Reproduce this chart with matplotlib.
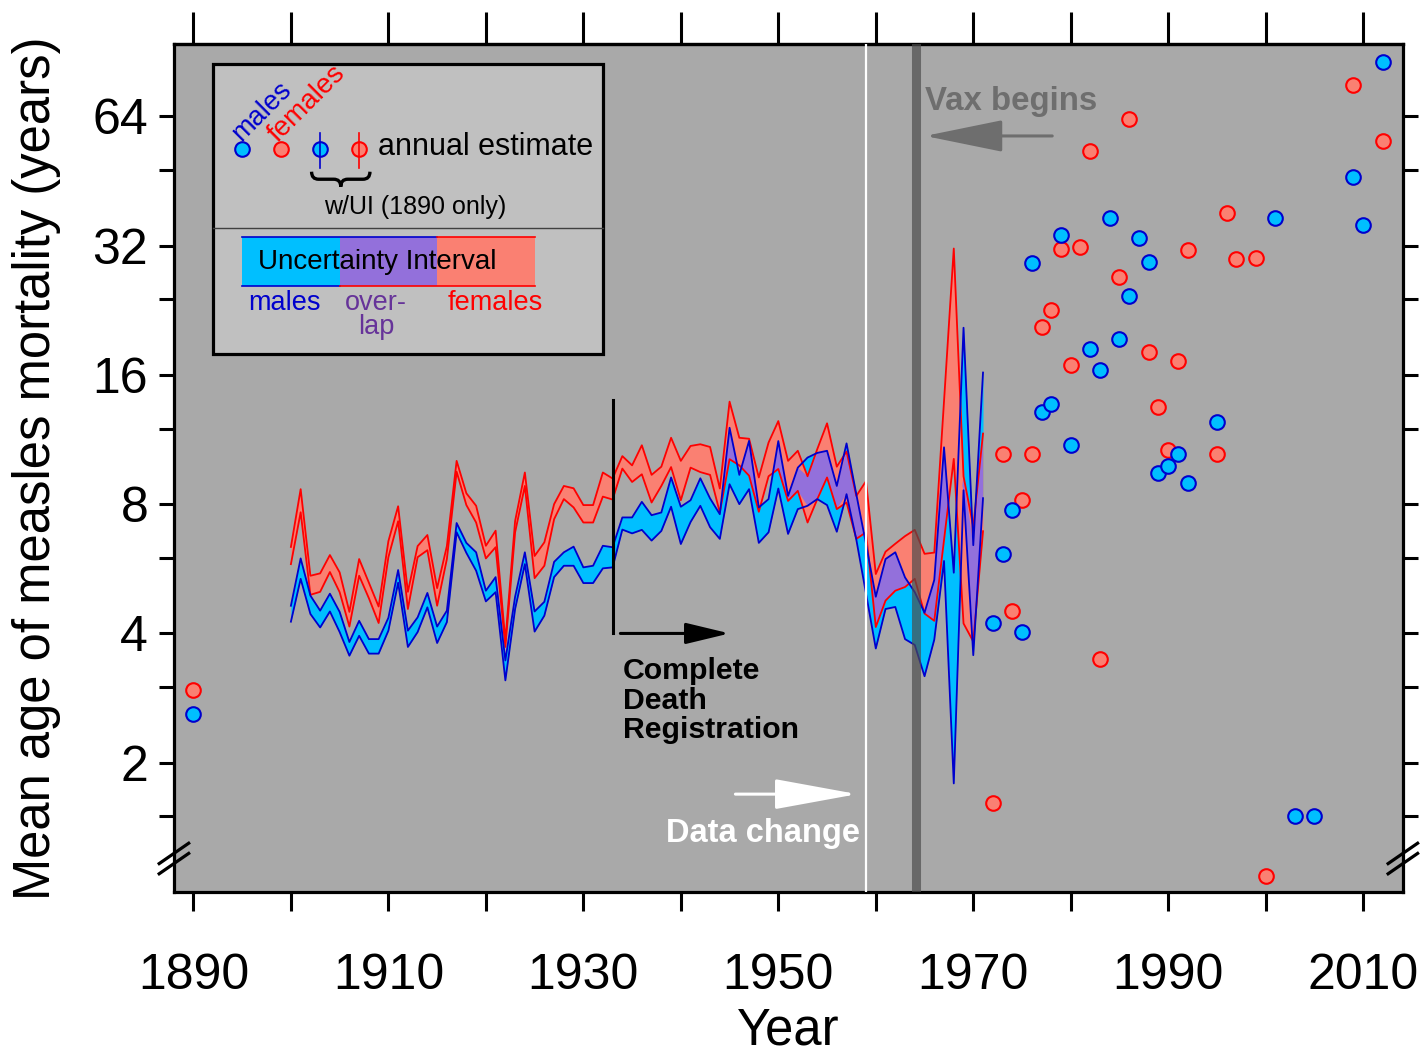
import numpy as np
import matplotlib.pyplot as plt
from matplotlib.patches import Rectangle, PathPatch
from matplotlib.path import Path

plt.rcParams['font.family'] = ['Liberation Sans', 'DejaVu Sans']

# --- DATA ---
band_years = np.arange(1900, 1972)

female_hi = [6.36, 8.67, 5.45, 5.52, 6.09, 5.55, 4.49, 5.96, 5.25, 4.62,
             6.56, 7.91, 5.00, 6.39, 6.78, 5.10, 6.39, 10.09, 8.48, 7.93,
             6.40, 6.94, 3.85, 7.31, 9.48, 6.06, 6.52, 8.00, 8.82, 8.71,
             7.96, 7.96, 9.48, 9.18, 10.35, 9.85, 10.97, 9.36, 9.78, 11.42,
             10.09, 10.93, 11.03, 10.87, 8.70, 13.86, 11.42, 11.36, 9.23, 11.13,
             12.49, 10.09, 10.65, 9.29, 10.75, 12.34, 9.78, 10.61, 8.36, 9.05,
             5.50, 6.20, 6.47, 6.74, 6.97, 6.13, 6.17, 13.9, 31.5, 9.29,
             7.09, 11.68]
female_lo = [5.80, 7.66, 4.92, 5.00, 5.56, 4.99, 4.15, 5.45, 4.83, 4.23,
             6.02, 7.30, 4.56, 6.02, 6.25, 4.64, 5.96, 9.52, 7.96, 7.25,
             5.98, 6.35, 3.72, 6.88, 8.82, 5.38, 5.75, 7.38, 8.22, 7.86,
             7.25, 7.25, 8.33, 8.20, 9.68, 9.01, 9.39, 8.07, 8.82, 9.76,
             8.17, 9.73, 9.50, 9.36, 7.65, 10.18, 9.85, 9.32, 7.68, 9.29,
             9.66, 8.14, 8.59, 7.25, 8.22, 9.23, 7.79, 8.07, 6.64, 6.88,
             4.14, 4.77, 5.03, 5.13, 5.36, 4.45, 4.28, 6.6, 10.2, 4.22,
             3.83, 6.92]
male_hi = [4.64, 5.98, 4.90, 4.52, 4.95, 4.49, 3.82, 4.28, 3.88, 3.88,
           4.35, 5.62, 4.06, 4.36, 4.97, 4.15, 4.52, 7.23, 6.50, 6.18,
           5.03, 5.41, 3.46, 4.87, 6.18, 4.50, 4.74, 5.87, 6.18, 6.37,
           5.70, 5.75, 6.40, 6.35, 7.45, 7.45, 8.10, 7.54, 7.65, 9.23,
           7.89, 8.17, 9.19, 8.25, 7.58, 12.05, 9.36, 11.23, 7.86, 8.22,
           11.22, 8.36, 9.73, 10.27, 10.53, 10.65, 8.82, 11.08, 8.44, 6.46,
           4.87, 5.96, 6.18, 5.40, 4.99, 4.47, 5.33, 10.85, 5.54, 20.6,
           6.42, 16.2]
male_lo = [4.26, 5.36, 4.44, 4.13, 4.50, 4.03, 3.55, 3.95, 3.59, 3.59,
           4.06, 5.25, 3.72, 4.03, 4.60, 3.80, 4.25, 6.88, 6.16, 5.60,
           4.75, 4.99, 3.11, 4.56, 5.80, 4.04, 4.40, 5.41, 5.75, 5.75,
           5.24, 5.24, 5.67, 5.70, 6.98, 6.84, 6.97, 6.58, 6.93, 7.89,
           6.46, 7.27, 7.93, 7.07, 6.64, 8.90, 8.00, 8.67, 6.50, 6.88,
           8.70, 6.82, 7.79, 7.93, 8.22, 7.96, 6.90, 8.44, 6.62, 4.95,
           3.69, 4.56, 4.61, 3.88, 3.76, 3.18, 3.87, 5.90, 1.79, 8.62,
           3.56, 8.26]

male_years = [1972, 1973, 1974, 1975, 1976, 1977, 1978, 1979, 1980, 1982,
              1983, 1984, 1985, 1986, 1987, 1988, 1989, 1990, 1991, 1992,
              1995, 2001, 2003, 2005, 2009, 2010, 2012]
male_est = [4.23, 6.12, 7.75, 4.03, 29.1, 13.1, 13.7, 33.8, 10.97, 18.4,
            16.4, 37.2, 19.4, 24.4, 33.3, 29.3, 9.43, 9.81, 10.49, 8.97,
            12.45, 37.2, 1.50, 1.50, 46.2, 35.8, 85.8]
female_years = [1972, 1973, 1974, 1975, 1976, 1977, 1978, 1979, 1980, 1981,
                1982, 1983, 1985, 1986, 1988, 1989, 1990, 1991, 1992, 1995,
                1996, 1997, 1999, 2000, 2009, 2012]
female_est = [1.61, 10.45, 4.52, 8.18, 10.45, 20.7, 22.6, 31.5, 16.9, 31.7,
              53.1, 3.49, 27.0, 63.0, 18.1, 13.5, 10.7, 17.2, 31.3, 10.45,
              38.2, 29.8, 29.9, 1.09, 75.8, 56.1]

# 1890 estimates with their uncertainty interval
est_1890 = {'male': (2.60, 2.52, 2.68), 'female': (2.96, 2.87, 3.05)}

x_ticks = list(range(1890, 2011, 10))
y_ticks = [2, 4, 8, 16, 32, 64]
y_minor = [1.5, 3, 6, 12, 24, 48]

CYAN = '#00BFFF'
SALMON = '#FA8072'
PURPLE = '#9370DB'
BLUE = '#0000CD'
RED = '#FF0000'
MS = 10.5

fig = plt.figure(figsize=(14.28, 10.53), dpi=100)
ax = fig.add_axes([0.1218, 0.1529, 0.8606, 0.8053])
ax.set_facecolor('#A9A9A9')
ax.set_yscale('log', base=2)
ax.set_xlim(1888.0, 2014.07)
ax.set_ylim(1.0, 94.3)

# uncertainty bands
ml, mu = np.array(male_lo), np.array(male_hi)
fl, fu = np.array(female_lo), np.array(female_hi)
ax.fill_between(band_years, ml, mu, color=CYAN, lw=0, zorder=2)
ax.fill_between(band_years, fl, fu, color=SALMON, lw=0, zorder=2)
lo = np.maximum(ml, fl)
hi = np.minimum(mu, fu)
ax.fill_between(band_years, lo, hi, where=hi > lo, interpolate=True,
                color=PURPLE, lw=0, zorder=3)
for arr, c in [(fu, RED), (fl, RED), (mu, BLUE), (ml, BLUE)]:
    ax.plot(band_years, arr, color=c, lw=1.3, zorder=4)

# reference lines
ax.axvline(1959.03, color='white', lw=1.6, zorder=5)
ax.axvline(1964.08, color='#4d4d4d', lw=6.5, alpha=0.7, zorder=5)
ax.plot([1933.0, 1933.0], [4.0, 14.0], color='black', lw=2.2, zorder=5)

# annual estimates
ax.plot(female_years, female_est, 'o', ms=MS, mfc=SALMON, mec=RED, mew=1.5,
        ls='none', zorder=6)
ax.plot(male_years, male_est, 'o', ms=MS, mfc=CYAN, mec=BLUE, mew=1.5,
        ls='none', zorder=7)
for key, fc, ec in [('female', SALMON, RED), ('male', CYAN, BLUE)]:
    v, l, h = est_1890[key]
    ax.errorbar([1890], [v], yerr=[[v - l], [h - v]], fmt='o', ms=MS,
                mfc=fc, mec=ec, mew=1.5, ecolor=ec, elinewidth=1.2,
                capsize=0, zorder=7)

# annotations
ax.annotate('', xy=(1945.0, 4.0), xytext=(1933.8, 4.0),
            arrowprops=dict(arrowstyle='-|>,head_length=2.7,head_width=0.65',
                            color='black', lw=2.2, mutation_scale=10,
                            shrinkA=0, shrinkB=0), zorder=6)
for txt, yv in [('Complete', 3.14), ('Death', 2.67), ('Registration', 2.28)]:
    ax.text(1934.07, yv, txt, fontsize=21.8, fontweight='bold', color='black',
            ha='left', va='baseline', zorder=6)

ax.annotate('', xy=(1958.1, 1.69), xytext=(1945.6, 1.69),
            arrowprops=dict(arrowstyle='-|>,head_length=5.2,head_width=0.95',
                            color='white', lw=2.2, mutation_scale=10,
                            shrinkA=0, shrinkB=0), zorder=6)
ax.text(1958.4, 1.31, 'Data change', fontsize=23.5, fontweight='bold',
        color='white', ha='right', va='baseline', zorder=6)

ax.annotate('', xy=(1965.05, 57.6), xytext=(1978.1, 57.6),
            arrowprops=dict(arrowstyle='-|>,head_length=4.9,head_width=1.0',
                            color='#6E6E6E', lw=2.2, mutation_scale=10,
                            shrinkA=0, shrinkB=0), zorder=6)
ax.text(1965.05, 66.2, 'Vax begins', fontsize=23.8, fontweight='bold',
        color='#6E6E6E', ha='left', va='baseline', zorder=6)

# --- legend box (drawn by hand) ---
T = ax.transAxes
ax.add_patch(Rectangle((0.0317, 0.6344), 0.3173, 0.342, transform=T,
                       facecolor='#C0C0C0', edgecolor='black', lw=2.3, zorder=10))
ax.plot([0.0317, 0.349], [0.783, 0.783], color='#404040', lw=1.0,
        transform=T, zorder=11)

ly = 0.8758
ax.plot([0.0556], [ly], 'o', ms=MS, mfc=CYAN, mec=BLUE, mew=1.5, transform=T, zorder=12)
ax.plot([0.0873], [ly], 'o', ms=MS, mfc=SALMON, mec=RED, mew=1.5, transform=T, zorder=12)
ax.plot([0.1190], [ly], 'o', ms=MS, mfc=CYAN, mec=BLUE, mew=1.5, transform=T, zorder=12)
ax.plot([0.1508], [ly], 'o', ms=MS, mfc=SALMON, mec=RED, mew=1.5, transform=T, zorder=12)
ax.plot([0.1190, 0.1190], [0.8538, 0.8950], color=BLUE, lw=1.2, transform=T, zorder=13)
ax.plot([0.1508, 0.1508], [0.8538, 0.8950], color=RED, lw=1.2, transform=T, zorder=13)

ax.text(0.0716, 0.921, 'males', rotation=45, fontsize=19.5, color=BLUE,
        ha='center', va='center', transform=T, zorder=12)
ax.text(0.1082, 0.930, 'females', rotation=45, fontsize=20, color=RED,
        ha='center', va='center', transform=T, zorder=12)
ax.text(0.166, 0.8785, 'annual estimate', fontsize=22, color='black',
        ha='left', va='center', transform=T, zorder=12)

# curly brace under the UI markers
x0, x1, yt, yb = 0.112, 0.1595, 0.8494, 0.8317
xc, ym, a = (x0 + x1) / 2, (yt + yb) / 2, 0.12 * (x1 - x0)
verts = [(x0, yt), (x0, ym), (x0 + a, ym), (xc - a, ym), (xc, ym), (xc, yb),
         (xc, ym), (xc + a, ym), (x1 - a, ym), (x1, ym), (x1, yt)]
codes = [Path.MOVETO, Path.CURVE3, Path.CURVE3, Path.LINETO, Path.CURVE3,
         Path.CURVE3, Path.CURVE3, Path.CURVE3, Path.LINETO, Path.CURVE3, Path.CURVE3]
ax.add_patch(PathPatch(Path(verts, codes), facecolor='none', edgecolor='black',
                       lw=2.4, transform=T, zorder=12))
ax.text(0.1966, 0.8081, 'w/UI (1890 only)', fontsize=18, color='black',
        ha='center', va='center', transform=T, zorder=12)

# colour key for the uncertainty interval
bx = [0.0553, 0.1351, 0.2140, 0.2937]
by0, by1 = 0.7146, 0.7724
for i, c in enumerate([CYAN, PURPLE, SALMON]):
    ax.add_patch(Rectangle((bx[i], by0), bx[i + 1] - bx[i], by1 - by0,
                           transform=T, facecolor=c, lw=0, zorder=12))
ax.plot([bx[0], bx[2]], [by1, by1], color=BLUE, lw=1.2, transform=T, zorder=13)
ax.plot([bx[2], bx[3]], [by1, by1], color=RED, lw=1.2, transform=T, zorder=13)
ax.plot([bx[0], bx[1]], [by0, by0], color=BLUE, lw=1.2, transform=T, zorder=13)
ax.plot([bx[1], bx[3]], [by0, by0], color=RED, lw=1.2, transform=T, zorder=13)
ax.text(0.0686, 0.7433, 'Uncertainty Interval', fontsize=20, color='black',
        ha='left', va='center', transform=T, zorder=14)
ax.text(0.0899, 0.6942, 'males', fontsize=19.5, color=BLUE, ha='center',
        va='center', transform=T, zorder=12)
ax.text(0.1644, 0.6942, 'over-', fontsize=19.5, color='#663399', ha='center',
        va='center', transform=T, zorder=12)
ax.text(0.1644, 0.6666, 'lap', fontsize=19.5, color='#663399', ha='center',
        va='center', transform=T, zorder=12)
ax.text(0.2618, 0.6942, 'females', fontsize=19.5, color=RED, ha='center',
        va='center', transform=T, zorder=12)

# --- axes styling ---
ax.set_xticks(x_ticks)
ax.set_xticklabels([str(y) if (y - 1890) % 20 == 0 else '' for y in x_ticks])
ax.set_yticks(y_ticks)
ax.set_yticklabels([str(v) for v in y_ticks])
ax.set_yticks(y_minor, minor=True)
ax.yaxis.set_minor_formatter(plt.NullFormatter())
ax.tick_params(axis='both', which='both', direction='out', width=2.2,
               top=False, right=True, labelsize=36)
ax.tick_params(axis='y', which='both', length=11, pad=7.5)
ax.tick_params(axis='x', which='both', length=14, pad=30)
for s in ax.spines.values():
    s.set_linewidth(2.3)

# longer tick marks along the top edge
top = ax.secondary_xaxis('top')
top.set_xticks(x_ticks)
top.set_xticklabels([])
top.tick_params(direction='out', length=23, width=2.2)
top.spines['top'].set_linewidth(2.3)

ax.set_xlabel('Year', fontsize=36.5)
ax.xaxis.set_label_coords(0.5, -0.135)
ax.set_ylabel('Mean age of measles mortality (years)', fontsize=36.5)
ax.yaxis.set_label_coords(-0.092, 0.5)

# axis break marks near the bottom of both y spines
for xs in (0.0, 1.0):
    for dy in (-0.006, 0.006):
        ax.plot([xs - 0.012, xs + 0.012], [0.0395 + dy - 0.012, 0.0395 + dy + 0.012],
                color='black', lw=2.3, transform=T, clip_on=False, zorder=20)

fig.savefig('out.png', dpi=100)
